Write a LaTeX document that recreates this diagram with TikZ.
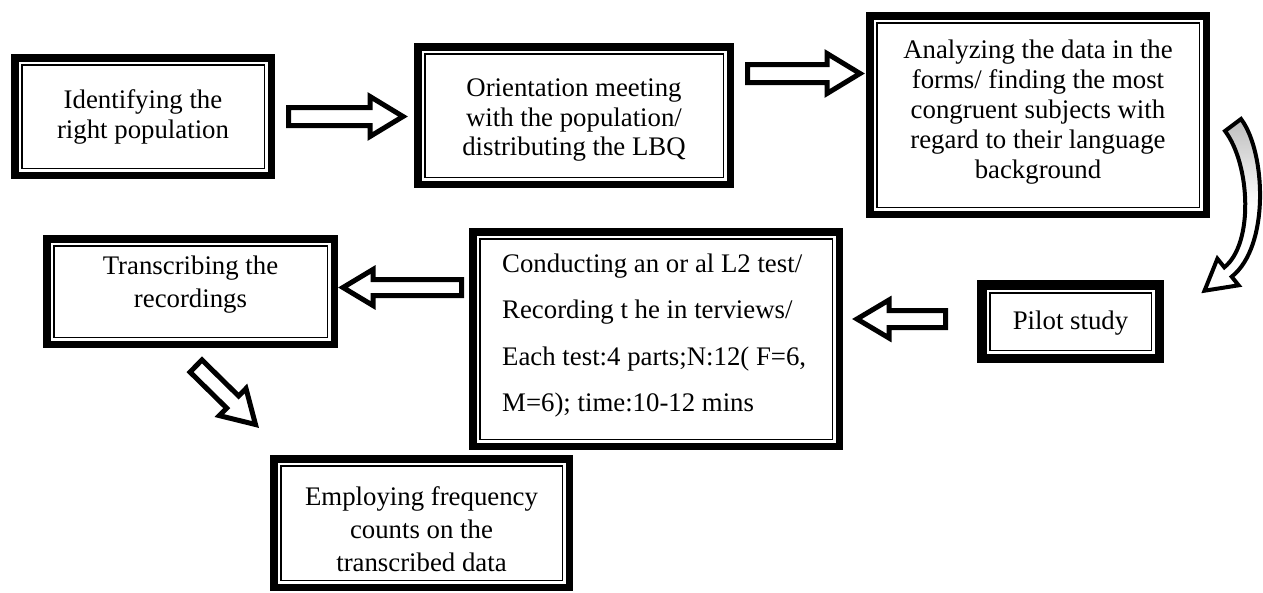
\documentclass[tikz,border=0pt]{standalone}
\usepackage{fontspec}
\setmainfont{Liberation Serif}
\usetikzlibrary{calc}
\begin{document}
\begin{tikzpicture}[x=1pt,y=-1pt,
  txt/.style={font=\fontsize{26.8}{30}\selectfont, align=center, inner sep=0pt},
  dbl/.style={draw=black, fill=white, line width=#1, inner sep=0pt, outer sep=0pt,
    path picture={\draw[line width=1.5pt]
      ([shift={(#1/2+3.25pt,-#1/2-3.25pt)}]path picture bounding box.north west) rectangle
      ([shift={(-#1/2-3.25pt,#1/2+3.25pt)}]path picture bounding box.south east);}},
  dbl/.default=7.5pt,
  barrow/.style n args={3}{draw=black, fill=white, line width=5pt, line join=miter,
    to path={($(\tikztostart)!#1!90:(\tikztotarget)$) --
      ($(\tikztotarget)!#3!(\tikztostart)!#1!90:(\tikztotarget)$) --
      ($(\tikztotarget)!#3!(\tikztostart)!#2!90:(\tikztotarget)$) --
      (\tikztotarget) --
      ($(\tikztotarget)!#3!(\tikztostart)!#2!-90:(\tikztotarget)$) --
      ($(\tikztotarget)!#3!(\tikztostart)!#1!-90:(\tikztotarget)$) --
      ($(\tikztostart)!#1!-90:(\tikztotarget)$) -- cycle}}]
\useasboundingbox (0,0) rectangle (1263,592);
\fill[white] (0,0) rectangle (1263,592);

% boxes
\node[dbl, minimum width=256.5pt, minimum height=117.5pt] (b1) at (143,116.5) {};
\node[dbl, minimum width=312.5pt, minimum height=137.5pt] (b2) at (574,115.5) {};
\node[dbl, minimum width=336.5pt, minimum height=198.5pt] (b3) at (1038,115) {};
\node[dbl=9.5pt, minimum width=177.5pt, minimum height=73.5pt] (b4) at (1070.5,321.5) {};
\node[dbl, minimum width=366.5pt, minimum height=214.5pt] (b5) at (656,339) {};
\node[dbl, minimum width=287.5pt, minimum height=105.5pt] (b6) at (190.5,291.5) {};
\node[dbl, minimum width=295.5pt, minimum height=128.5pt] (b7) at (421.5,523) {};

% texts
\node[txt] (t1) at (b1.center) {Identifying the\\right population};
\node[txt, font=\fontsize{26.8}{29.5}\selectfont] (t2) at ($(b2.center)+(0pt,-5pt)$)
  {Orientation meeting\\with the population/\\distributing the LBQ};
\node[txt] (t3) at ($(b3.center)+(0pt,3pt)$)
  {Analyzing the data in the\\forms/ finding the most\\congruent subjects with\\regard to their language\\background};
\node[txt] (t4) at ($(b4.center)+(0pt,-2pt)$) {Pilot study};
\node[txt, align=left, anchor=north west,
  font=\fontsize{26.8}{46.5}\selectfont] (t5) at ($(b5.north west)+(29.25pt,-21.65pt)$)
  {Conducting an or al L2 test/\\Recording t he in terviews/\\Each test:4 parts;N:12( F=6,\\M=6); time:10-12 mins};
\node[txt, font=\fontsize{26.8}{33}\selectfont] (t6) at ($(b6.center)+(0pt,7pt)$)
  {Transcribing the\\recordings};
\node[txt, font=\fontsize{26.8}{33}\selectfont] (t7) at ($(b7.center)+(0pt,-6pt)$)
  {Employing frequency\\counts on the\\transcribed data};

% block arrows
\coordinate (a1s) at ($(b1.east)+(17.25pt,0pt)$);
\coordinate (a1e) at ($(b1.east -| b2.west)+(-14.75pt,0pt)$);
\draw[barrow={9pt}{20pt}{33pt}] (a1s) to (a1e);

\coordinate (a2s) at ($(b2.east)+(17.25pt,42pt)$);
\coordinate (a2e) at ($(a2s -| b3.west)+(-9.75pt,0pt)$);
\draw[barrow={9pt}{20pt}{33pt}] (a2s) to (a2e);

\coordinate (a3s) at ($(b5.west)+(-11.25pt,51.5pt)$);
\coordinate (a3e) at ($(a3s -| b6.east)+(8.75pt,0pt)$);
\draw[barrow={8pt}{18pt}{30pt}] (a3s) to (a3e);

\coordinate (a4s) at ($(b4.west)+(-36.25pt,2.5pt)$);
\coordinate (a4e) at ($(a4s -| b5.east)+(17.75pt,0pt)$);
\draw[barrow={8.5pt}{19pt}{32pt}] (a4s) to (a4e);

\coordinate (a5s) at ($(b6.south)+(5.5pt,-21.75pt)$);
\coordinate (a5e) at ($(b7.north west)+(-18.25pt,34.25pt)$);
\draw[barrow={8.5pt}{19pt}{32pt}] (a5s) to (a5e);

% curved arrow from b3 to b4
\begin{scope}
  \clip (1225,131) -- (1241,119) .. controls (1265.7,151.6) and (1270.1,246.2) .. (1231.7,276.7)
    -- (1238.6,285.3) -- (1204.5,290.7) -- (1217.4,258.7) -- (1224.3,267.3)
    .. controls (1253.9,243.8) and (1250.3,164.4) .. (1225,131) -- cycle;
  \fill[white] (1190,100) rectangle (1280,300);
  \shade[top color=black!28, bottom color=white] (1190,112) rectangle (1280,205);
\end{scope}
\draw[line width=4pt, line join=miter]
  (1225,131) -- (1241,119) .. controls (1265.7,151.6) and (1270.1,246.2) .. (1231.7,276.7)
  -- (1238.6,285.3) -- (1204.5,290.7) -- (1217.4,258.7) -- (1224.3,267.3)
  .. controls (1253.9,243.8) and (1250.3,164.4) .. (1225,131) -- cycle;
\end{tikzpicture}
\end{document}
